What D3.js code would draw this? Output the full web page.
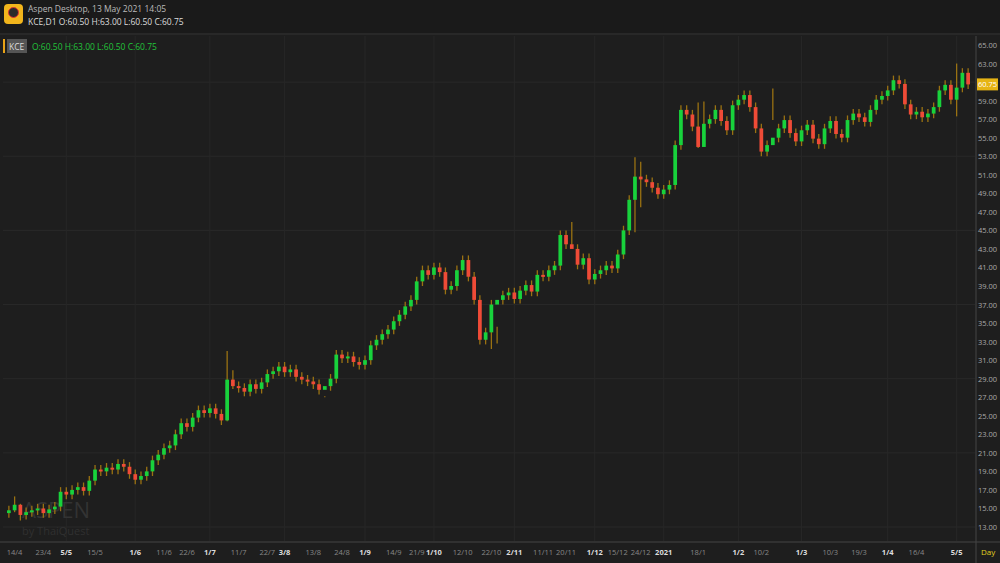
<!DOCTYPE html>
<html>
<head>
<meta charset="utf-8">
<style>
  body { margin: 0; background: #1e1e1e; font-family: 'Open Sans', 'DejaVu Sans', sans-serif; }
  svg { display: block; }
</style>
</head>
<body>
<svg width="1000" height="563"></svg>
<script src="https://d3js.org/d3.v7.min.js"></script>
<script>
// daily closes (approx), Apr 2020 -> May 2021
const closes = [
  14.8, 15.4, 14.3, 14.6, 14.8, 15.0, 14.5, 14.9, 15.2, 16.8, 16.5, 17.0, 17.3, 16.9, 18.0, 19.2,
  19.0, 19.4, 19.2, 19.8, 19.5, 18.7, 18.1, 18.5, 19.0, 20.2, 20.8, 21.5, 21.8, 23.0, 24.2, 23.8, 24.8, 25.6, 25.3, 25.8, 25.2, 24.5, 28.9,
  28.2, 28.0, 27.6, 28.4, 27.9, 28.6, 29.5, 29.8, 30.3, 29.7, 30.0, 29.2, 28.9, 28.7, 28.4, 27.8, 28.2, 29.0, 31.6,
  31.2, 31.4, 30.8, 30.5, 31.0, 32.6, 33.2, 33.8, 34.3, 35.2, 35.9, 36.8, 37.5, 39.5, 40.7, 40.2, 41.0, 40.5, 38.6, 39.0, 40.7, 41.8, 40.0,
  37.5, 33.2, 34.0, 37.0, 37.5, 38.0, 38.3, 37.6, 38.5, 39.1, 38.4, 40.2, 40.0, 40.7, 41.2, 44.5,
  43.5, 43.0, 41.3, 42.0, 39.7, 40.3, 40.7, 41.2, 40.9, 42.4, 45.0, 48.3, 50.8, 50.5, 50.2, 49.6, 48.9, 49.4, 49.9,
  54.2, 58.0, 57.5, 56.2, 54.0, 56.5, 57.0, 58.0, 56.8, 55.8, 58.5, 59.1, 59.6, 58.3, 56.0, 53.5, 54.2, 55.0,
  56.0, 56.9, 55.5, 54.6, 55.8, 56.4, 54.9, 54.3, 56.0, 56.8, 55.4, 55.0, 56.9, 57.6, 57.2, 56.7, 58.0, 59.1,
  59.5, 60.1, 61.2, 60.8, 58.6, 57.5, 57.8, 57.2, 57.6, 58.3, 60.1, 60.7, 59.1, 60.4, 62.0, 60.75
];
// notable wicks: [index, high, low]
const spikes = [
  [1, 16.3, 14.6], [2, 15.5, 13.7], [38, 32.0, 24.4], [39, 29.9, 27.9], [55, 27.1, 27.0],
  [84, 37.5, 32.2], [85, 34.6, 32.8], [98, 45.9, 43.2], [109, 52.9, 44.8], [110, 52.4, 47.5],
  [120, 58.8, 53.9], [121, 58.9, 55.3], [133, 60.3, 56.9], [165, 63.0, 57.3]
];
const yTicks = d3.range(13, 66, 2);
const tickLabels = ["14/4","23/4","5/5","15/5","1/6","11/6","22/6","1/7","11/7","22/7","3/8","13/8","24/8","1/9","14/9","21/9","1/10","12/10","22/10","2/11","11/11","20/11","1/12","15/12","24/12","2021","18/1","1/2","10/2","1/3","10/3","19/3","1/4","16/4","5/5"];
const tickIdx = [1,6,10,15,22,27,31,35,40,45,48,53,58,62,67,71,74,79,84,88,93,97,102,106,110,114,120,127,131,138,143,148,153,158,165];
const boldLabels = ["1/6","1/7","3/8","1/9","1/10","2/11","1/12","2021","1/2","1/3","1/4","5/5"];

const svg = d3.select("svg");
const plotL = 3, plotR = 975, plotT = 36, plotB = 541;

const candles = closes.map((c, i) => {
  const o = i === 0 ? 14.5 : closes[i - 1];
  let h = Math.max(o, c) + 0.5, l = Math.min(o, c) - 0.5;
  const s = spikes.find(d => d[0] === i);
  if (s) { h = s[1]; l = s[2]; }
  return { i, o, h, l, c };
});

const x = d3.scaleBand().domain(d3.range(closes.length)).range([plotL + 2, plotR - 3]).padding(0.35);
const y = d3.scaleLinear().domain([65, 13]).range([45, 527]);

// header
svg.append("rect").attr("x", 0).attr("y", 0).attr("width", 1000).attr("height", 33).attr("fill", "#1a1a1a");
svg.append("rect").attr("x", 4).attr("y", 4).attr("width", 19).attr("height", 20).attr("rx", 4).attr("fill", "#f2b51c");
svg.append("circle").attr("cx", 13.5).attr("cy", 12.5).attr("r", 5).attr("fill", "#2a2a2a").attr("stroke", "#d33");
svg.append("text").attr("x", 28).attr("y", 12).attr("fill", "#bbb").attr("font-size", 8.5).text("Aspen Desktop, 13 May 2021 14:05");
svg.append("text").attr("x", 28).attr("y", 25).attr("fill", "#ddd").attr("font-size", 8.5).text("KCE,D1  O:60.50 H:63.00 L:60.50 C:60.75");
svg.append("line").attr("x1", 0).attr("x2", 1000).attr("y1", 34).attr("y2", 34).attr("stroke", "#333");

// grid
svg.append("g").selectAll("line").data(yTicks.filter(v => (v - 13) % 8 === 0)).join("line")
  .attr("x1", plotL).attr("x2", plotR).attr("y1", d => y(d)).attr("y2", d => y(d))
  .attr("stroke", "#292929");
svg.append("g").selectAll("line").data(tickLabels.map((t, k) => [t, tickIdx[k]]).filter(d => boldLabels.includes(d[0]))).join("line")
  .attr("x1", d => x(d[1]) + x.bandwidth() / 2).attr("x2", d => x(d[1]) + x.bandwidth() / 2)
  .attr("y1", plotT).attr("y2", plotB).attr("stroke", "#272727");

// watermark
svg.append("text").attr("x", 22).attr("y", 518).attr("fill", "#333").attr("font-size", 22).text("ASPEN");
svg.append("text").attr("x", 22).attr("y", 535).attr("fill", "#303030").attr("font-size", 11).text("by ThaiQuest");

// legend row
svg.append("rect").attr("x", 3).attr("y", 39).attr("width", 2).attr("height", 14).attr("fill", "#e8a317");
svg.append("rect").attr("x", 7).attr("y", 39).attr("width", 20).attr("height", 14).attr("fill", "#555");
svg.append("text").attr("x", 9).attr("y", 50).attr("fill", "#ddd").attr("font-size", 8.5).text("KCE");
svg.append("text").attr("x", 32).attr("y", 50).attr("fill", "#22c43a").attr("font-size", 8.5).text("O:60.50  H:63.00  L:60.50  C:60.75");

// candles
const g = svg.append("g");
g.selectAll(".wick").data(candles).join("line")
  .attr("x1", d => x(d.i) + x.bandwidth() / 2).attr("x2", d => x(d.i) + x.bandwidth() / 2)
  .attr("y1", d => y(d.h)).attr("y2", d => y(d.l))
  .attr("stroke", "#9a7212").attr("stroke-width", 1.3);
g.selectAll(".body").data(candles).join("rect")
  .attr("x", d => x(d.i)).attr("width", x.bandwidth())
  .attr("y", d => y(Math.max(d.o, d.c)))
  .attr("height", d => Math.max(2, Math.abs(y(d.o) - y(d.c))))
  .attr("fill", d => d.c > d.o ? "#18d23c" : d.c < d.o ? "#ef4b37" : "#c48a10");

// axes frame
svg.append("line").attr("x1", plotR + 1).attr("x2", plotR + 1).attr("y1", plotT).attr("y2", 563).attr("stroke", "#444");
svg.append("line").attr("x1", 0).attr("x2", 1000).attr("y1", plotB + 1).attr("y2", plotB + 1).attr("stroke", "#444");

// y axis labels
const last = closes[closes.length - 1];
svg.append("g").selectAll("text").data(yTicks.filter(v => Math.abs(y(v) - y(last)) > 7)).join("text")
  .attr("x", 978).attr("y", d => y(d) + 3).attr("fill", "#aaa").attr("font-size", 7.5)
  .text(d => d3.format(".2f")(d));

// last price tag
svg.append("rect").attr("x", 977).attr("y", y(last) - 6).attr("width", 21).attr("height", 12).attr("fill", "#e6b415");
svg.append("text").attr("x", 978).attr("y", y(last) + 3).attr("fill", "#fff").attr("font-size", 7.5).text(d3.format(".2f")(last));

// x axis labels
svg.append("g").selectAll("text").data(tickLabels).join("text")
  .attr("x", (d, k) => x(tickIdx[k]) + x.bandwidth() / 2)
  .attr("y", 555).attr("text-anchor", "middle").attr("font-size", 7.5)
  .attr("fill", d => boldLabels.includes(d) ? "#ddd" : "#888")
  .attr("font-weight", d => boldLabels.includes(d) ? "bold" : "normal")
  .text(d => d);
svg.append("text").attr("x", 981).attr("y", 555).attr("fill", "#e0d020").attr("font-size", 8).text("Day");
</script>
</body>
</html>
